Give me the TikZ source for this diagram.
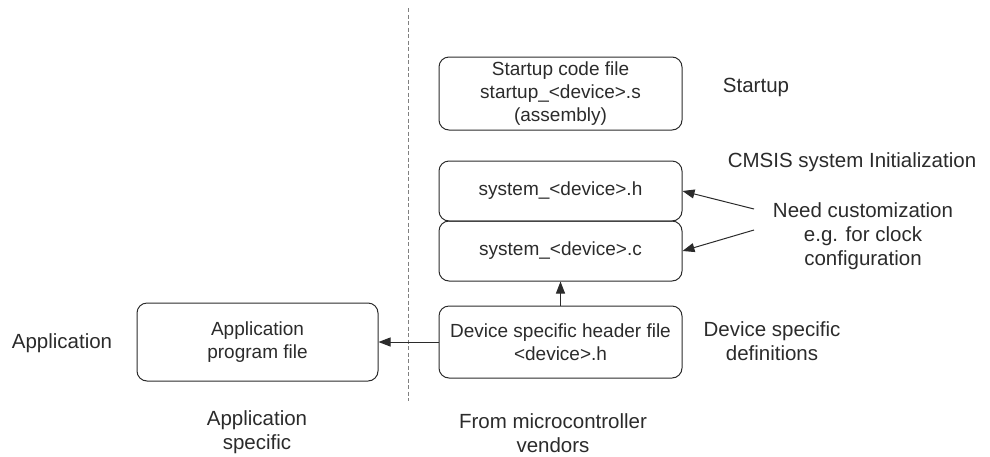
\documentclass[tikz,border=0pt]{standalone}
\usepackage{fontspec}
\setmainfont{Liberation Sans}
\usetikzlibrary{arrows.meta}
\definecolor{ink}{HTML}{2B2B2B}
\tikzset{
  filebox/.style={draw=ink, line width=1pt, rounded corners=10pt, align=center, inner sep=0pt,
    text=ink, font=\fontsize{19}{23}\selectfont},
  lbl/.style={align=center, inner sep=0pt, text=ink, font=\fontsize{20.5}{24}\selectfont},
  conn/.style={draw=ink, line width=1pt, -{Triangle[length=12pt,width=9pt]}},
  sep/.style={draw=gray, line width=1pt, dash pattern=on 4pt off 2.5pt}
}
\begin{document}
\begin{tikzpicture}[x=1pt,y=-1pt]
\useasboundingbox (0,0) rectangle (990,456);
% separator
\coordinate (st) at (408,8);
\coordinate (sb) at (408,401);
\draw[sep] (st) -- (sb);
% boxes
\node[filebox, minimum width=243pt, minimum height=73pt] (startup) at (560.5,93.5)
  {Startup code file\\startup\_<device>.s\\(assembly)};
\node[filebox, minimum width=243pt, minimum height=60pt] (sysh) at (560.5,191)
  {system\_<device>.h};
\node[filebox, minimum width=243pt, minimum height=60pt] (sysc) at (560.5,251)
  {system\_<device>.c};
\node[filebox, minimum width=243pt, minimum height=72pt] (dev) at (560.5,342)
  {Device specific header file\\<device>.h};
\node[filebox, minimum width=241pt, minimum height=78pt] (app) at (257.5,342)
  {Application\\program file};
% labels
\node[lbl] (lstart) at (756,87) {Startup};
\node[lbl] (lcmsis) at (852,162) {CMSIS system Initialization};
\node[lbl] (lneed) at (863,236) {Need customization\\e.g. for clock\\configuration};
\node[lbl] (ldev) at (772,341) {Device specific\\definitions};
\node[lbl] (lapp) at (62,343) {Application};
\node[lbl] (lappspec) at (257,432) {Application\\specific};
\node[lbl] (lvendor) at (553,433) {From microcontroller\\vendors};
% connectors
\coordinate (n1) at (754,209);
\coordinate (n2) at (754,230);
\draw[conn] (n1) -- (sysh.east);
\draw[conn] (n2) -- (sysc.east);
\draw[conn] (dev.north) -- (sysc.south);
\draw[conn] (dev.west) -- (app.east);
\end{tikzpicture}
\end{document}
